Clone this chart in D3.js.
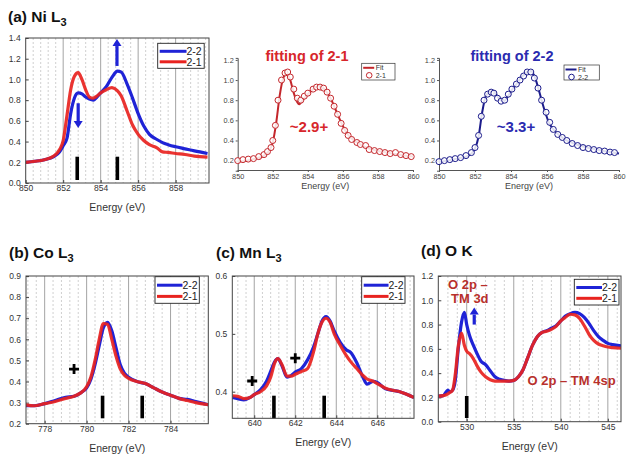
<!DOCTYPE html>
<html><head><meta charset="utf-8">
<script src="https://cdn.jsdelivr.net/npm/d3@7"></script>
<style>
body{margin:0;background:#fff}
svg{display:block}
text{font-family:"Liberation Sans",Arial,Helvetica,sans-serif}
</style>
</head><body>
<svg id="c" width="631" height="460"></svg>
<script>
// ---------------- DATA ----------------
// (a) Ni L3
const niE  = [850,850.5,851,851.5,851.8,852,852.2,852.4,852.6,852.8,853,853.2,853.4,853.6,853.8,854,854.3,854.6,854.9,855.1,855.4,855.7,856,856.3,856.6,857,857.3,857.6,858,858.5,859,859.7];
const ni22 = [0.2,0.21,0.225,0.255,0.3,0.36,0.43,0.67,0.82,0.87,0.86,0.83,0.81,0.8,0.83,0.87,0.93,1.02,1.08,1.07,0.96,0.82,0.67,0.55,0.47,0.42,0.39,0.37,0.35,0.33,0.31,0.285];
const ni21 = [0.2,0.21,0.225,0.26,0.32,0.41,0.65,0.9,1.03,1.065,1.0,0.9,0.83,0.82,0.84,0.87,0.9,0.92,0.89,0.84,0.7,0.56,0.47,0.41,0.37,0.34,0.3,0.295,0.285,0.275,0.26,0.25];
const niXTicks = [850,852,854,856,858];
const niYTicks = [0,0.2,0.4,0.6,0.8,1.0,1.2,1.4];
const niBars = [852.75,854.89];

// fitting of 2-1
const fit21E    = [850,850.5,851,851.5,851.8,852,852.2,852.4,852.6,852.8,853,853.2,853.4,853.5,853.7,854,854.3,854.6,854.8,855,855.3,855.6,855.9,856.2,856.5,857,857.5,858,858.5,859,859.5,860];
const fit21Line = [0.19,0.2,0.22,0.25,0.3,0.38,0.58,0.85,1.02,1.07,1.0,0.87,0.78,0.76,0.8,0.86,0.91,0.94,0.93,0.9,0.82,0.7,0.58,0.48,0.42,0.36,0.32,0.295,0.28,0.265,0.25,0.24];
const fit21PtE  = [850,850.3,850.6,850.9,851.2,851.5,851.7,851.9,852,852.15,852.3,852.5,852.7,852.85,853,853.2,853.4,853.6,853.8,854,854.3,854.5,854.7,854.9,855.1,855.3,855.5,855.7,855.9,856.1,856.3,856.5,856.8,857,857.3,857.5,857.8,858.1,858.4,858.7,859,859.3,859.6,859.9];
const fit21Pt   = [0.2,0.21,0.215,0.22,0.24,0.26,0.29,0.33,0.4,0.55,0.8,1.0,1.07,1.08,1.03,0.91,0.82,0.8,0.84,0.87,0.91,0.93,0.93,0.92,0.88,0.82,0.74,0.66,0.57,0.5,0.45,0.41,0.38,0.36,0.35,0.31,0.3,0.29,0.28,0.27,0.28,0.26,0.25,0.24];

// fitting of 2-2
const fit22E    = [850,850.5,851,851.5,851.8,852,852.2,852.4,852.6,852.8,853,853.2,853.4,853.6,853.8,854,854.3,854.6,854.9,855.1,855.3,855.5,855.7,855.9,856.1,856.4,856.7,857,857.5,858,858.5,859,859.5,860];
const fit22Line = [0.19,0.2,0.22,0.24,0.27,0.32,0.44,0.68,0.84,0.88,0.89,0.85,0.8,0.79,0.83,0.89,0.96,1.03,1.08,1.09,1.04,0.93,0.8,0.68,0.58,0.5,0.45,0.41,0.37,0.34,0.32,0.3,0.285,0.27];
const fit22PtE  = [850,850.3,850.6,850.9,851.2,851.5,851.8,852,852.2,852.35,852.5,852.7,852.9,853.05,853.25,853.45,853.65,853.85,854.05,854.3,854.5,854.7,854.9,855.1,855.3,855.5,855.7,855.95,856.15,856.35,856.6,856.85,857.1,857.4,857.7,858,858.3,858.6,858.9,859.2,859.5,859.75];
const fit22Pt   = [0.19,0.2,0.21,0.22,0.23,0.25,0.28,0.33,0.45,0.64,0.8,0.86,0.88,0.87,0.82,0.79,0.8,0.86,0.91,0.96,1.0,1.04,1.08,1.08,1.02,0.92,0.8,0.68,0.58,0.51,0.46,0.43,0.4,0.37,0.35,0.33,0.32,0.31,0.3,0.295,0.285,0.28];
const fitXTicks = [850,852,854,856,858,860];
const fitYTicks = [0.2,0.4,0.6,0.8,1.0,1.2];

// (b) Co L3
const coE  = [777.1,777.5,778,778.5,779,779.4,779.7,780,780.2,780.4,780.6,780.8,781,781.2,781.4,781.6,781.8,782,782.4,782.8,783.2,783.6,784,784.4,784.8,785.2,785.8];
const co22 = [0.285,0.285,0.295,0.31,0.325,0.33,0.345,0.37,0.41,0.48,0.57,0.655,0.68,0.64,0.56,0.48,0.44,0.42,0.4,0.39,0.37,0.35,0.335,0.32,0.315,0.305,0.29];
const co21 = [0.29,0.285,0.295,0.305,0.32,0.33,0.345,0.375,0.42,0.5,0.6,0.675,0.67,0.6,0.52,0.46,0.43,0.415,0.4,0.39,0.37,0.35,0.335,0.32,0.31,0.3,0.29];
const coXTicks = [778,780,782,784];
const coYTicks = [0.2,0.3,0.4,0.5,0.6,0.7,0.8,0.9];
const coBars = [780.76,782.65];

// (c) Mn L3
const mnE  = [638.93,639.2,639.5,639.8,640,640.3,640.6,640.8,641,641.15,641.35,641.6,641.8,642,642.3,642.6,642.9,643.1,643.3,643.5,643.7,643.9,644.2,644.5,644.7,645,645.3,645.5,645.8,646,646.4,646.8,647.1,647.4,647.79];
const mn22 = [0.39,0.388,0.386,0.39,0.395,0.403,0.418,0.435,0.452,0.457,0.445,0.425,0.428,0.434,0.44,0.455,0.478,0.5,0.522,0.53,0.522,0.505,0.485,0.472,0.468,0.45,0.425,0.413,0.418,0.416,0.405,0.402,0.4,0.396,0.39];
const mn21 = [0.393,0.392,0.388,0.39,0.395,0.4,0.41,0.425,0.45,0.457,0.447,0.427,0.427,0.43,0.435,0.44,0.47,0.5,0.52,0.527,0.52,0.5,0.48,0.462,0.452,0.44,0.428,0.422,0.418,0.414,0.406,0.402,0.4,0.396,0.39];
const mnXTicks = [640,642,644,646];
const mnYTicks = [0.4,0.5,0.6];
const mnBars = [640.96,643.41];

// (d) O K
const oE  = [526.98,527.5,528,528.2,528.5,528.8,529.1,529.45,529.75,530,530.3,530.7,531.1,531.5,532,532.5,533,533.5,534,534.5,535,535.5,536,536.5,537,537.5,538,538.5,539,539.5,540,540.5,541,541.5,542,542.5,543,543.5,544,544.5,545,545.5,546.4];
const o22 = [0.21,0.215,0.26,0.245,0.26,0.35,0.6,0.82,0.9,0.8,0.71,0.63,0.56,0.5,0.47,0.42,0.37,0.35,0.34,0.335,0.34,0.37,0.43,0.53,0.63,0.7,0.735,0.75,0.77,0.79,0.83,0.87,0.89,0.9,0.89,0.86,0.81,0.75,0.7,0.67,0.645,0.635,0.625];
const o21 = [0.21,0.215,0.23,0.24,0.26,0.4,0.62,0.73,0.63,0.58,0.56,0.52,0.46,0.41,0.37,0.345,0.335,0.335,0.335,0.335,0.34,0.37,0.43,0.53,0.63,0.7,0.735,0.745,0.76,0.785,0.83,0.86,0.885,0.88,0.85,0.79,0.72,0.67,0.64,0.625,0.615,0.61,0.605];
const oXTicks = [530,535,540,545];
const oYTicks = [0,0.2,0.4,0.6,0.8,1.0,1.2];
const oBars = [530.0];

const seriesNames = ["2-2","2-1"];

// ---------------- DRAW ----------------
const svg = d3.select("#c");
const BLUE = "#1f23d6", RED = "#e8231f";
const FIT_RED = "#c4262b", FIT_BLUE = "#1c1c8c";
let clipId = 0;
const curve = d3.curveMonotoneX;

function mainPanel(o){
  const g = svg.append("g");
  const x = d3.scaleLinear().domain(o.xd).range([o.l, o.r]);
  const y = d3.scaleLinear().domain(o.yd).range([o.b, o.t]);
  const i0 = Math.ceil(o.xd[0]/o.minor - 1e-9), i1 = Math.floor(o.xd[1]/o.minor + 1e-9);
  d3.range(i0, i1+1).forEach(i=>{
    const v = i*o.minor;
    const isMajor = Math.abs(v/o.major - Math.round(v/o.major)) < 1e-6;
    if (Math.abs(x(v)-o.l) < 1 || Math.abs(x(v)-o.r) < 1) return;
    g.append("line").attr("x1",x(v)).attr("x2",x(v)).attr("y1",o.t).attr("y2",o.b)
      .attr("stroke", isMajor ? "#9a9a9a" : "#c4c4c4")
      .attr("stroke-width", isMajor ? 0.9 : 0.8)
      .attr("stroke-dasharray", isMajor ? null : "2,2");
  });
  const ax = g.append("g").attr("transform",`translate(0,${o.b})`)
    .call(d3.axisBottom(x).tickValues(o.xt).tickSize(-3).tickPadding(2).tickFormat(d3.format("d")));
  const ay = g.append("g").attr("transform",`translate(${o.l},0)`)
    .call(d3.axisLeft(y).tickValues(o.yt).tickSize(-3).tickPadding(5).tickFormat(d3.format(".1f")));
  [ax,ay].forEach(a=>{
    a.select(".domain").remove();
    a.selectAll("line").attr("stroke","#444");
    a.selectAll("text").attr("font-size",8.5).attr("fill","#333")
      .attr("font-family","Liberation Sans, Arial, sans-serif");
  });
  const cid = "clip"+(clipId++);
  g.append("clipPath").attr("id",cid).append("rect")
    .attr("x",o.l).attr("y",o.t).attr("width",o.r-o.l).attr("height",o.b-o.t);
  const cg = g.append("g").attr("clip-path",`url(#${cid})`);
  const line = d3.line().x(d=>x(d[0])).y(d=>y(d[1])).curve(curve);
  cg.append("path").datum(o.e.map((e,i)=>[e,o.s22[i]])).attr("d",line)
    .attr("fill","none").attr("stroke",BLUE).attr("stroke-width",3.2).attr("stroke-linejoin","round");
  cg.append("path").datum(o.e.map((e,i)=>[e,o.s21[i]])).attr("d",line)
    .attr("fill","none").attr("stroke",RED).attr("stroke-width",3.2).attr("stroke-linejoin","round")
    .attr("stroke-opacity",0.92);
  o.bars.forEach(v=>{
    g.append("rect").attr("x",x(v)-1.8).attr("width",3.6)
      .attr("y",o.barTop).attr("height",o.barBot-o.barTop).attr("fill","#000");
  });
  g.append("rect").attr("x",o.l).attr("y",o.t).attr("width",o.r-o.l).attr("height",o.b-o.t)
    .attr("fill","none").attr("stroke","#444").attr("stroke-width",1);
  g.append("text").attr("x",(o.l+o.r)/2).attr("y",o.b+28).attr("text-anchor","middle")
    .attr("font-size",10.5).attr("fill","#333").text("Energy (eV)");
  const L = o.leg;
  const lg = g.append("g");
  lg.append("rect").attr("x",L[0]).attr("y",L[1]).attr("width",L[2]).attr("height",L[3])
    .attr("fill","#fff").attr("stroke","#222").attr("stroke-width",0.9);
  [[BLUE,seriesNames[0]],[RED,seriesNames[1]]].forEach((s,i)=>{
    const yy = L[1] + L[3]*(i===0?0.32:0.74);
    lg.append("line").attr("x1",L[0]+2).attr("x2",L[0]+L[2]*0.62).attr("y1",yy).attr("y2",yy)
      .attr("stroke",s[0]).attr("stroke-width",3);
    lg.append("text").attr("x",L[0]+L[2]*0.62).attr("y",yy+3.8).attr("font-size",10.5)
      .attr("fill","#222").text(s[1]);
  });
  const t = g.append("text").attr("x",o.title[1]).attr("y",o.title[2]).attr("font-size",15.5)
    .attr("font-weight","bold").attr("fill","#111");
  t.append("tspan").text(o.title[0]);
  if (o.title[3]) t.append("tspan").attr("font-size",11).attr("dy",4).text(o.title[3]);
  return {g,x,y};
}

function plus(g,px,py){
  g.append("path").attr("d",`M${px-5},${py}H${px+5}M${px},${py-5}V${py+5}`)
    .attr("stroke","#000").attr("stroke-width",2.8);
}
function arrow(g,x0,y0,x1,y1,color){
  const dx=x1-x0, dy=y1-y0, len=Math.hypot(dx,dy), ux=dx/len, uy=dy/len;
  const hl=7, hw=4.5;
  const bx=x1-ux*hl, by=y1-uy*hl;
  g.append("line").attr("x1",x0).attr("y1",y0).attr("x2",bx).attr("y2",by)
    .attr("stroke",color).attr("stroke-width",3.2);
  g.append("path").attr("d",`M${x1},${y1}L${bx-uy*hw},${by+ux*hw}L${bx+uy*hw},${by-ux*hw}Z`).attr("fill",color);
}

const A = mainPanel({l:25.7,r:209,t:38,b:183,xd:[850,859.78],yd:[0,1.4],xt:niXTicks,yt:niYTicks,
  minor:0.4,major:2,e:niE,s22:ni22,s21:ni21,bars:niBars,barTop:156.7,barBot:180,
  leg:[157.7,43.3,46.5,25],title:["(a) Ni L",8,21.7,"3"]});
arrow(A.g,A.x(854.87),A.y(1.13),A.x(854.87),A.y(1.39),BLUE);
arrow(A.g,A.x(852.8),A.y(0.77),A.x(852.8),A.y(0.53),BLUE);

const B = mainPanel({l:26,r:208.3,t:276,b:423.7,xd:[777.11,785.8],yd:[0.2,0.9],xt:coXTicks,yt:coYTicks,
  minor:0.4,major:2,e:coE,s22:co22,s21:co21,bars:coBars,barTop:395.7,barBot:418.3,
  leg:[155,276.7,44.3,26.6],title:["(b) Co L",9,258.3,"3"]});
plus(B.g,B.x(779.4),B.y(0.459));

const C = mainPanel({l:232.3,r:414,t:276,b:418.3,xd:[638.93,647.79],yd:[0.354,0.6],xt:mnXTicks,yt:mnYTicks,
  minor:0.4,major:2,e:mnE,s22:mn22,s21:mn21,bars:mnBars,barTop:395.7,barBot:418.3,
  leg:[361.7,276.7,43.3,26.6],title:["(c) Mn L",216,257.5,"3"]});
plus(C.g,C.x(639.9),C.y(0.4185));
plus(C.g,C.x(642.0),C.y(0.458));

const D = mainPanel({l:438.3,r:621,t:276,b:421.7,xd:[526.98,546.4],yd:[0,1.2],xt:oXTicks,yt:oYTicks,
  minor:1,major:5,e:oE,s22:o22,s21:o21,bars:oBars,barTop:396,barBot:418,
  leg:[574.3,279.3,44.7,25.7],title:["(d) O K",421,255.5,null]});
arrow(D.g,D.x(530.8),D.y(0.8),D.x(530.8),D.y(0.94),BLUE);
const OKC = "#b8302c";
D.g.append("text").attr("x",448).attr("y",289).attr("font-size",13).attr("font-weight","bold").attr("fill",OKC).text("O 2p –");
D.g.append("text").attr("x",451).attr("y",302.5).attr("font-size",13).attr("font-weight","bold").attr("fill",OKC).text("TM 3d");
D.g.append("text").attr("x",527.5).attr("y",384.5).attr("font-size",13).attr("font-weight","bold").attr("fill",OKC).text("O 2p – TM 4sp");

function fitPanel(o){
  const g = svg.append("g");
  const x = d3.scaleLinear().domain([850,860]).range([o.l,o.r]);
  const y = d3.scaleLinear().domain([0.1,1.22]).range([170.7,57.9]);
  const ax = g.append("g").attr("transform","translate(0,170)")
    .call(d3.axisBottom(x).tickValues(fitXTicks).tickSize(2).tickPadding(2).tickFormat(d3.format("d")));
  const ay = g.append("g").attr("transform",`translate(${o.l},0)`)
    .call(d3.axisLeft(y).tickValues(fitYTicks).tickSize(2).tickPadding(2).tickFormat(d3.format(".1f")));
  [ax,ay].forEach(a=>{
    a.select(".domain").attr("stroke","#555");
    a.selectAll("line").attr("stroke","#555");
    a.selectAll("text").attr("font-size",7.3).attr("fill","#444")
      .attr("font-family","Liberation Sans, Arial, sans-serif");
  });
  const line = d3.line().x(d=>x(d[0])).y(d=>y(d[1])).curve(curve);
  g.append("path").datum(o.le.map((e,i)=>[e,o.lv[i]])).attr("d",line)
    .attr("fill","none").attr("stroke",o.c).attr("stroke-width",2);
  g.selectAll("circle.p").data(o.pe.map((e,i)=>[e,o.pv[i]])).enter().append("circle")
    .attr("cx",d=>x(d[0])).attr("cy",d=>y(d[1])).attr("r",3)
    .attr("fill","#fff").attr("fill-opacity",0.85).attr("stroke",o.c).attr("stroke-width",1);
  g.append("text").attr("x",(o.l+o.r)/2).attr("y",189).attr("text-anchor","middle")
    .attr("font-size",9).attr("fill","#444").text("Energy (eV)");
  g.append("text").attr("x",o.tx).attr("y",61).attr("text-anchor","middle")
    .attr("font-size",14.5).attr("font-weight","bold").attr("fill",o.tc).text(o.title);
  g.append("text").attr("x",o.ax).attr("y",131.5).attr("text-anchor","middle")
    .attr("font-size",15).attr("font-weight","bold").attr("fill",o.tc).text(o.ann);
  const L=o.leg;
  g.append("rect").attr("x",L[0]).attr("y",L[1]).attr("width",L[2]).attr("height",L[3])
    .attr("fill","#fff").attr("stroke","#333").attr("stroke-width",0.7);
  g.append("line").attr("x1",L[0]+1.5).attr("x2",L[0]+12.5).attr("y1",L[1]+4.5).attr("y2",L[1]+4.5)
    .attr("stroke",o.c).attr("stroke-width",2);
  g.append("text").attr("x",L[0]+14).attr("y",L[1]+7).attr("font-size",7).attr("fill","#333").text("Fit");
  g.append("circle").attr("cx",L[0]+7.5).attr("cy",L[1]+12).attr("r",2.8)
    .attr("fill","#fff").attr("stroke",o.c).attr("stroke-width",1);
  g.append("text").attr("x",L[0]+14).attr("y",L[1]+14.5).attr("font-size",7).attr("fill","#333").text(o.name);
}
fitPanel({l:237.7,r:413,le:fit21E,lv:fit21Line,pe:fit21PtE,pv:fit21Pt,c:FIT_RED,tc:"#d7262b",
  title:"fitting of 2-1",tx:307,ann:"~2.9+",ax:309,leg:[361.7,63.3,33.3,16.7],name:seriesNames[1]});
fitPanel({l:439,r:619,le:fit22E,lv:fit22Line,pe:fit22PtE,pv:fit22Pt,c:FIT_BLUE,tc:"#2b2bb0",
  title:"fitting of 2-2",tx:512,ann:"~3.3+",ax:516,leg:[564,65,35.3,15],name:seriesNames[0]});
</script>
</body></html>
